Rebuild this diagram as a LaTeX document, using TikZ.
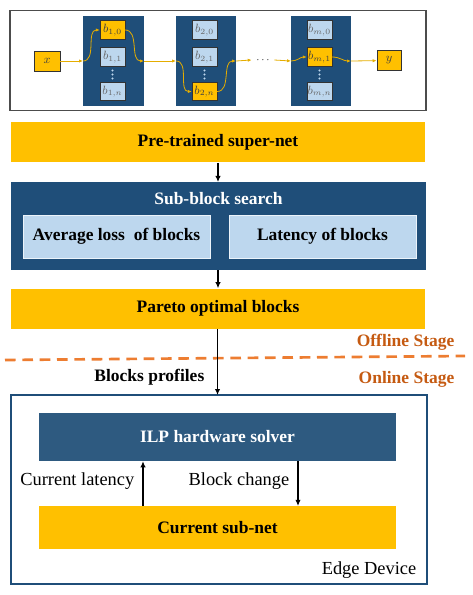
\documentclass[tikz,border=0pt]{standalone}
\usepackage{fontspec}
\setmainfont{Liberation Serif}
\usetikzlibrary{arrows.meta}
\definecolor{goldbar}{HTML}{FFC000}
\definecolor{navy}{HTML}{1F4E79}
\definecolor{navylight}{HTML}{2E5A80}
\definecolor{paleblue}{HTML}{BDD7EE}
\definecolor{rust}{HTML}{C55A11}
\definecolor{dashorange}{HTML}{ED7D31}
\newcommand{\boldtxt}{\fontsize{13.1}{16}\selectfont\bfseries}
\newcommand{\plaintxt}{\fontsize{13.8}{16}\selectfont}
\tikzset{
  yelbox/.style={fill=goldbar, draw=none, minimum height=30pt, minimum width=310.5pt, align=center, font=\boldtxt},
  cand/.style={draw=black!80, fill=paleblue, line width=0.5pt, minimum width=18.5pt, minimum height=14pt, inner sep=0pt, text=black!60, font=\small},
  picked/.style={cand, fill=goldbar, text=black!75},
  flow/.style={goldbar!90!black, line width=0.6pt, -{Latex[length=3pt,width=2.5pt]}},
  down/.style={line width=0.8pt, -{Latex[length=4.5pt,width=4pt]}}
}
\begin{document}
\begin{tikzpicture}[x=0.75pt, y=-0.75pt]
  \useasboundingbox (0,0) rectangle (473,595);

  %%%%% SUPER-NET %%%%%
  \draw[black!70, line width=0.8pt] (10,10.5) rectangle (426,110.5);
  \fill[navy] (83,16) rectangle (144,106);
  \fill[navy] (176,16) rectangle (236,106);
  \fill[navy] (291,16) rectangle (351,106);
  \coordinate (in1) at (83,61);  \coordinate (out1) at (144,61);
  \coordinate (in2) at (176,61); \coordinate (out2) at (236,61);
  \coordinate (in3) at (291,61); \coordinate (out3) at (351,61);

  \node[picked] (b10) at (112.5,30) {$b_{1,0}$};
  \node[cand] (b11) at (112.5,57) {$b_{1,1}$};
  \node[cand] (b1n) at (112.5,91.5) {$b_{1,n}$};

  \node[cand] (b20) at (204.5,30) {$b_{2,0}$};
  \node[cand] (b21) at (204.5,57) {$b_{2,1}$};
  \node[picked] (b2n) at (204.5,91.5) {$b_{2,n}$};

  \node[cand] (bm0) at (319.5,30) {$b_{m,0}$};
  \node[picked] (bm1) at (319.5,57) {$b_{m,1}$};
  \node[cand] (bmn) at (319.5,91.5) {$b_{m,n}$};

  % vertical ellipses
  \foreach \cx in {112.5,204.5,319.5}
    \foreach \cy in {70.5,74.5,78.5}
      \fill[paleblue] (\cx,\cy) circle (0.9pt);

  \node[picked, minimum width=19.5pt, minimum height=15pt] (x) at (47,61) {$x$};
  \node[picked, minimum width=18pt, minimum height=15pt] (y) at (389,60.5) {$y$};
  \node[font=\scriptsize] (dots) at (263,60) {$\cdots$};

  \draw[flow] (x) -- (in1);
  \draw[flow] (in1) to[out=0, in=180] (b10.west);
  \draw[flow] (b10.east) to[out=0, in=180] (out1);
  \draw[flow] (out1) -- (in2);
  \draw[flow] (in2) to[out=0, in=180] (b2n.west);
  \draw[flow] (b2n.east) to[out=0, in=180] (out2);
  \draw[flow] (out2) -- (dots.west);
  \draw[flow] (dots.east) -- (in3);
  \draw[flow] (in3) to[out=0, in=180] (bm1.west);
  \draw[flow] (bm1.east) to[out=0, in=180] (out3);
  \draw[flow] (out3) -- (y);

  %%%%% OFFLINE %%%%%
  \node[yelbox] (supernet) at (218,142.5) {Pre-trained super-net};

  \fill[navy] (11,182) rectangle (426,270);
  \node[text=white, font=\boldtxt] (search) at (218.5,199) {Sub-block search};
  \node[fill=paleblue, draw=white!70!paleblue, minimum width=140pt, minimum height=32pt, font=\boldtxt] (loss) at (116.5,236.5) {Average loss\ \ of blocks};
  \node[fill=paleblue, draw=white!70!paleblue, minimum width=140pt, minimum height=32pt, font=\boldtxt] (lat) at (322.5,236.5) {Latency of blocks};
  \coordinate (searchtop) at (218,182);
  \coordinate (searchbot) at (218,270);

  \node[yelbox] (pareto) at (218,308.5) {Pareto optimal blocks};

  \draw[down] (supernet) -- (searchtop);
  \draw[down] (searchbot) -- (pareto);

  %%%%% STAGES %%%%%
  \coordinate (cutl) at (5,360);
  \coordinate (cutr) at (465,356);
  \draw[dashorange, line width=2pt, dash pattern=on 8pt off 5pt] (cutl) -- (cutr);
  \node[text=rust, font=\boldtxt, anchor=east] (offline) at (459,342) {Offline Stage};
  \node[text=rust, font=\boldtxt, anchor=east] (online) at (459,379) {Online Stage};

  %%%%% EDGE DEVICE %%%%%
  \draw[navy, line width=0.9pt] (11,395) rectangle (427,584);
  \coordinate (edgetop) at (217.5,395);
  \draw[down] (pareto.south -| edgetop) -- (edgetop);
  \node[anchor=east, font=\boldtxt] (profiles) at (209,377) {Blocks profiles};

  \node[fill=navylight, text=white, minimum width=268pt, minimum height=36pt, font=\boldtxt] (ilp) at (217.5,437) {ILP hardware solver};
  \node[fill=goldbar, minimum width=268pt, minimum height=32pt, font=\boldtxt] (subnet) at (217.5,527.5) {Current sub-net};

  \draw[down] (subnet.north -| 143,0) -- (ilp.south -| 143,0);
  \draw[down] (ilp.south -| 298,0) -- (subnet.north -| 298,0);
  \node[anchor=east, font=\plaintxt] (curlat) at (139,481) {Current latency};
  \node[anchor=east, font=\plaintxt] (blkchg) at (294,481) {Block change};
  \node[anchor=east, font=\plaintxt] (edge) at (421,570) {Edge Device};
\end{tikzpicture}
\end{document}
